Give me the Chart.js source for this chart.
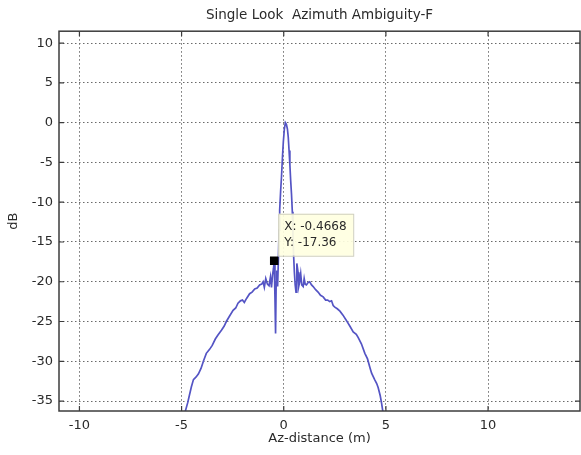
<!DOCTYPE html>
<html>
<head>
<meta charset="utf-8">
<script src="https://cdn.jsdelivr.net/npm/chart.js@4"></script>
<style>
  html, body { margin: 0; padding: 0; background: #ffffff; }
  canvas { display: block; }
</style>
</head>
<body>
<canvas id="graph" width="581" height="455"></canvas>
<script>
// values
const azDistance = [
  -4.82, -4.70, -4.62, -4.52, -4.42, -4.30, -4.18, -4.05, -3.92, -3.79,
  -3.63, -3.50, -3.35, -3.22, -3.05, -2.92, -2.81, -2.65, -2.48, -2.35,
  -2.24, -2.12, -2.02, -1.93, -1.82, -1.67, -1.55, -1.42, -1.30, -1.18,
  -1.08, -1.01, -0.95, -0.88, -0.80, -0.72, -0.65, -0.60, -0.55, -0.50,
  -0.4668, -0.43, -0.40, -0.37, -0.34, -0.30, -0.26, -0.23, -0.20, -0.15,
  -0.11, -0.06, -0.02, 0.03, 0.08, 0.13, 0.18, 0.22, 0.26, 0.30,
  0.34, 0.38, 0.42, 0.45, 0.48, 0.52, 0.56, 0.60, 0.64, 0.70,
  0.74, 0.78, 0.83, 0.88, 0.95, 1.00, 1.05, 1.11, 1.19, 1.27,
  1.36, 1.44, 1.56, 1.68, 1.80, 1.93, 2.05, 2.15, 2.25, 2.34,
  2.42, 2.50, 2.62, 2.75, 2.90, 3.05, 3.24, 3.40, 3.55, 3.64,
  3.80, 3.97, 4.10, 4.22, 4.30, 4.45, 4.55, 4.62, 4.72, 4.79, 4.85
];
const ambiguityDb = [
  -36.3, -35.2, -34.3, -33.2, -32.3, -32.0, -31.6, -30.9, -29.9, -29.0,
  -28.5, -28.0, -27.2, -26.7, -26.1, -25.6, -25.0, -24.3, -23.6, -23.3,
  -22.7, -22.4, -22.3, -22.6, -22.1, -21.5, -21.3, -20.9, -20.8, -20.4,
  -20.3, -20.0, -20.7, -19.6, -20.3, -20.5, -19.4, -20.7, -19.2, -18.3,
  -17.36, -22.0, -26.5, -20.0, -18.6, -20.6, -17.0, -13.5, -11.0, -8.5,
  -6.8, -4.2, -2.4, -0.8, 0.0, -0.2, -0.8, -1.8, -3.5, -5.3,
  -7.3, -9.0, -11.2, -14.0, -16.5, -18.8, -20.4, -21.3, -17.7, -18.8,
  -20.5, -20.0, -19.0, -20.4, -20.6, -19.6, -20.3, -20.4, -20.1, -20.0,
  -20.4, -20.6, -21.0, -21.3, -21.7, -21.9, -22.3, -22.3, -22.5, -22.4,
  -23.0, -23.2, -23.4, -23.7, -24.2, -24.8, -25.6, -26.3, -26.6, -27.0,
  -27.8, -29.0, -29.7, -30.8, -31.5, -32.3, -32.8, -33.3, -34.3, -35.3, -36.3
];
const xTicks = [-10, -5, 0, 5, 10];
const yTicks = [10, 5, 0, -5, -10, -15, -20, -25, -30, -35];
const tipX = [-0.4668];
const tipY = [-17.36];

const fontFam = '"DejaVu Sans", "Liberation Sans", Arial, sans-serif';
const textCol = '#2a2a2a';

// frame, inward tick marks and the data tip box (matlab look)
const matlabAxes = {
  id: 'matlabAxes',
  afterDatasetsDraw(chart) {
    const ctx = chart.ctx;
    const a = chart.chartArea;
    const xs = chart.scales.x, ys = chart.scales.y;
    ctx.save();
    ctx.strokeStyle = '#3c3c3c';
    ctx.lineWidth = 1.5;
    ctx.strokeRect(a.left, a.top, a.right - a.left, a.bottom - a.top);
    ctx.lineWidth = 1.2;
    ctx.beginPath();
    xTicks.forEach(v => {
      const px = xs.getPixelForValue(v);
      ctx.moveTo(px, a.bottom); ctx.lineTo(px, a.bottom - 5);
      ctx.moveTo(px, a.top); ctx.lineTo(px, a.top + 5);
    });
    yTicks.forEach(v => {
      const py = ys.getPixelForValue(v);
      ctx.moveTo(a.left, py); ctx.lineTo(a.left + 5, py);
      ctx.moveTo(a.right, py); ctx.lineTo(a.right - 5, py);
    });
    ctx.stroke();

    // data tip
    const mx = xs.getPixelForValue(tipX[0]);
    const my = ys.getPixelForValue(tipY[0]);
    const bx = mx + 4, by = my - 47;
    ctx.fillStyle = 'rgba(255, 255, 225, 0.92)';
    ctx.fillRect(bx, by, 75, 42);
    ctx.strokeStyle = '#cfcfbf';
    ctx.lineWidth = 1;
    ctx.strokeRect(bx + 0.5, by + 0.5, 75, 42);
    ctx.fillStyle = textCol;
    ctx.font = '12px ' + fontFam;
    ctx.textBaseline = 'middle';
    ctx.fillText('X: ' + tipX[0], bx + 6, by + 13);
    ctx.fillText('Y: ' + tipY[0], bx + 6, by + 29);
    ctx.restore();
  }
};

const ctx = document.getElementById('graph').getContext('2d');
window.chartx = new Chart(ctx, {
  type: 'scatter',
  data: {
    datasets: [{
      data: tipX.map((v, i) => ({ x: v, y: tipY[i] })),
      showLine: false,
      pointStyle: 'rect',
      pointRadius: 6,
      borderWidth: 0,
      backgroundColor: '#000000',
      order: 0
    }, {
      data: azDistance.map((v, i) => ({ x: v, y: ambiguityDb[i] })),
      showLine: true,
      borderColor: '#5454c4',
      borderWidth: 1.7,
      pointRadius: 0,
      tension: 0,
      order: 1
    }]
  },
  options: {
    responsive: false,
    animation: false,
    devicePixelRatio: 1,
    layout: { autoPadding: false, padding: { left: 0, right: 1, top: 0, bottom: 0 } },
    plugins: {
      legend: { display: false },
      tooltip: { enabled: false },
      title: {
        display: true,
        fullSize: false,
        text: 'Single Look  Azimuth Ambiguity-F',
        color: textCol,
        font: { family: fontFam, size: 13.5, weight: 'normal' },
        padding: { top: 7, bottom: 8 }
      }
    },
    scales: {
      x: {
        type: 'linear',
        min: -11,
        max: 14.5,
        afterBuildTicks: s => { s.ticks = xTicks.map(v => ({ value: v })); },
        afterFit: s => { s.height = 44; s.paddingLeft = 0; s.paddingRight = 0; },
        grid: { color: '#6a6a6a', lineWidth: 1, drawTicks: false },
        border: { display: false, dash: [1.5, 2.5] },
        ticks: { color: textCol, padding: 7, maxRotation: 0, font: { family: fontFam, size: 13 } },
        title: {
          display: true,
          text: 'Az-distance (m)',
          color: textCol,
          font: { family: fontFam, size: 13 },
          padding: { top: 0, bottom: 9 }
        }
      },
      y: {
        type: 'linear',
        min: -36.25,
        max: 11.5,
        afterBuildTicks: s => { s.ticks = yTicks.map(v => ({ value: v })); },
        afterFit: s => { s.width = 59; s.paddingTop = 0; s.paddingBottom = 0; },
        grid: { color: '#6a6a6a', lineWidth: 1, drawTicks: false },
        border: { display: false, dash: [1.5, 2.5] },
        ticks: { color: textCol, padding: 6, font: { family: fontFam, size: 13 } },
        title: {
          display: true,
          text: 'dB',
          color: textCol,
          font: { family: fontFam, size: 13 },
          padding: { top: 6, bottom: 0 }
        }
      }
    }
  },
  plugins: [matlabAxes]
});
</script>
</body>
</html>
